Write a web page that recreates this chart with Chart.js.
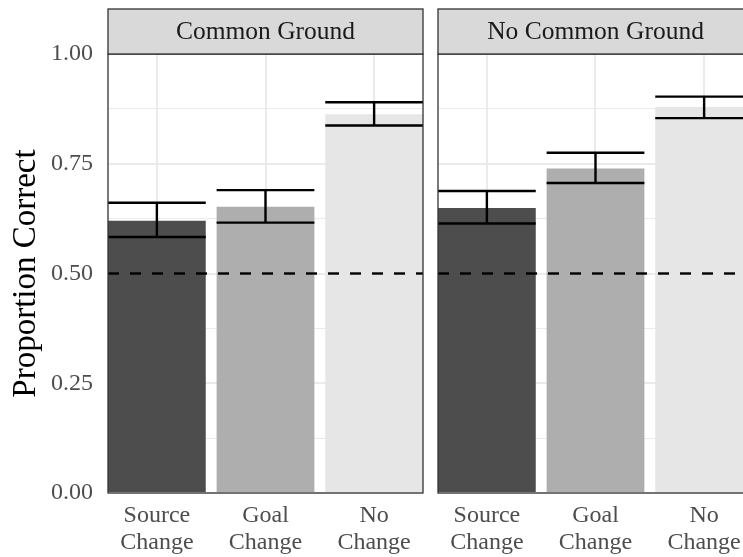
<!DOCTYPE html>
<html>
<head>
<meta charset="utf-8">
<script src="https://cdn.jsdelivr.net/npm/chart.js@4"></script>
<style>
  html, body { margin: 0; padding: 0; background: #fff; overflow: hidden; width: 743px; height: 557px; }
  .panel { position: absolute; top: 0; }
  #left { left: 0; }
  #right { left: 430px; }
</style>
</head>
<body>
<canvas id="left" class="panel" width="430" height="557"></canvas>
<canvas id="right" class="panel" width="330" height="557"></canvas>
<script>
// facets and categories
const panels = ['Common Ground', 'No Common Ground'];
const categories = [['Source', 'Change'], ['Goal', 'Change'], ['No', 'Change']];
const barColors = ['#4d4d4d', '#aeaeae', '#e6e6e6'];
const chanceLevel = 0.5;

// proportion correct, with error bar ends
const commonMeans = [0.620, 0.652, 0.863];
const commonLower = [0.583, 0.616, 0.837];
const commonUpper = [0.661, 0.690, 0.890];

const noCommonMeans = [0.649, 0.739, 0.879];
const noCommonLower = [0.614, 0.706, 0.854];
const noCommonUpper = [0.688, 0.775, 0.903];

const yTicks = [0, 0.25, 0.5, 0.75, 1];

Chart.defaults.font.family = "'Liberation Serif', 'DejaVu Serif', serif";

// error bars + dashed chance line
const errorBars = {
  id: 'errorBars',
  afterDatasetsDraw(chart, args, opts) {
    const ctx = chart.ctx, y = chart.scales.y, area = chart.chartArea;
    ctx.save();
    // dashed reference line
    ctx.strokeStyle = '#000';
    ctx.lineWidth = 2.4;
    ctx.setLineDash([11, 11]);
    const yc = y.getPixelForValue(chanceLevel);
    ctx.beginPath();
    ctx.moveTo(area.left, yc);
    ctx.lineTo(area.right, yc);
    ctx.stroke();
    ctx.setLineDash([]);
    // error bars
    const bars = chart.getDatasetMeta(0).data;
    bars.forEach((bar, i) => {
      const half = bar.width / 2;
      const lo = y.getPixelForValue(opts.lower[i]);
      const hi = y.getPixelForValue(opts.upper[i]);
      ctx.beginPath();
      ctx.moveTo(bar.x - half, hi); ctx.lineTo(bar.x + half, hi);
      ctx.moveTo(bar.x - half, lo); ctx.lineTo(bar.x + half, lo);
      ctx.moveTo(bar.x, hi); ctx.lineTo(bar.x, lo);
      ctx.stroke();
    });
    ctx.restore();
  }
};

// panel border and strip header
const facetStrip = {
  id: 'facetStrip',
  afterDraw(chart, args, opts) {
    const ctx = chart.ctx, a = chart.chartArea;
    ctx.save();
    ctx.strokeStyle = '#333';
    ctx.lineWidth = 1.3;
    ctx.strokeRect(a.left, a.top, a.right - a.left, a.bottom - a.top);
    const top = 9;
    ctx.fillStyle = '#d9d9d9';
    ctx.fillRect(a.left, top, a.right - a.left, a.top - top);
    ctx.strokeRect(a.left, top, a.right - a.left, a.top - top);
    ctx.fillStyle = '#1a1a1a';
    ctx.font = "25.5px 'Liberation Serif'";
    ctx.textAlign = 'center';
    ctx.textBaseline = 'middle';
    ctx.fillText(opts.title, (a.left + a.right) / 2, (top + a.top) / 2 + 1);
    ctx.restore();
  }
};

function makePanel(id, title, means, lower, upper, showY) {
  const points = means.map((v, i) => ({ x: i, y: v }));
  return new Chart(document.getElementById(id), {
    type: 'bar',
    data: {
      datasets: [{
        data: points,
        backgroundColor: barColors,
        borderWidth: 0,
        barPercentage: 0.9,
        categoryPercentage: 1
      }]
    },
    options: {
      responsive: false,
      animation: false,
      layout: { padding: { top: 54, right: 7, left: showY ? 0 : 8, bottom: 0 } },
      plugins: {
        legend: { display: false },
        tooltip: { enabled: false },
        errorBars: { lower, upper },
        facetStrip: { title }
      },
      scales: {
        x: {
          type: 'linear',
          offset: false,
          min: -0.45,
          max: categories.length - 0.55,
          afterBuildTicks: s => { s.ticks = categories.map((c, i) => ({ value: i })); },
          afterFit: s => { s.height = 64; },
          grid: { color: '#ebebeb', lineWidth: 2, drawTicks: false, offset: false },
          border: { display: false },
          ticks: {
            autoSkip: false,
            maxRotation: 0,
            padding: 9,
            color: '#4d4d4d',
            font: { size: 24, lineHeight: 1.12 },
            callback: v => categories[v]
          }
        },
        y: {
          min: 0,
          max: 1,
          afterFit: s => { s.width = showY ? 108 : 0; },
          grid: {
            drawTicks: false,
            color: '#ebebeb',
            lineWidth: ctx => yTicks.includes(ctx.tick.value) ? 2 : 1
          },
          border: { display: false },
          ticks: {
            display: showY,
            stepSize: 0.125,
            padding: 15,
            color: '#4d4d4d',
            font: { size: 24 },
            callback: v => yTicks.includes(v) ? v.toFixed(2) : ''
          },
          title: {
            display: showY,
            text: 'Proportion Correct',
            color: '#000',
            font: { size: 33 },
            padding: { top: 7, bottom: 0 }
          }
        }
      }
    },
    plugins: [errorBars, facetStrip]
  });
}

makePanel('left', panels[0], commonMeans, commonLower, commonUpper, true);
makePanel('right', panels[1], noCommonMeans, noCommonLower, noCommonUpper, false);
</script>
</body>
</html>
